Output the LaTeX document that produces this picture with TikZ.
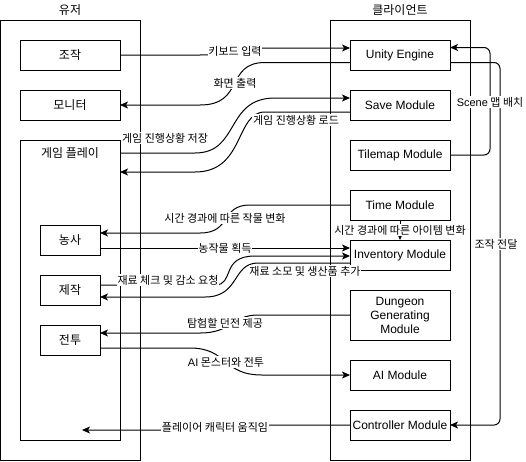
\documentclass[tikz,border=0pt]{standalone}
\usepackage{fontspec}
\setmainfont{Liberation Sans}
\newfontfamily\kr{Noto Sans CJK KR}
\usetikzlibrary{arrows.meta,calc}
\begin{document}
\begin{tikzpicture}[x=1pt,y=-1pt,
  every node/.style={inner sep=0pt, outer sep=0pt},
  cont/.style={draw, line width=1pt},
  box/.style={draw, line width=1pt, fill=white, minimum width=100pt, minimum height=30pt, font=\fontsize{12}{14}\selectfont, align=center},
  kbox/.style={box, font=\kr\fontsize{12}{14}\selectfont},
  ttl/.style={font=\kr\fontsize{12}{14}\selectfont},
  lab/.style={fill=white, font=\kr\fontsize{11}{13}\selectfont, inner sep=0.6pt},
  conn/.style={line width=1pt, -{Stealth[length=8pt,width=7pt,inset=2pt]}},
  ]
\useasboundingbox (0,0) rectangle (526,461);
% containers
\node[cont, minimum width=139.5pt, minimum height=440pt] (user) at (70.25,240) {};
\node[ttl] (usert) at (70,10) {유저};
\node[cont, minimum width=140pt, minimum height=440pt] (client) at (400,240) {};
\node[ttl] (clientt) at (400,10) {클라이언트};
\node[cont, minimum width=100pt, minimum height=300pt] (gp) at (70,290) {};
\node[ttl] (gpt) at (70,153) {게임 플레이};
% boxes
\node[kbox] (jo) at (70,55) {조작};
\node[kbox] (mon) at (70,105) {모니터};
\node[kbox, minimum width=60pt] (farm) at (70,240) {농사};
\node[kbox, minimum width=60pt] (craft) at (70,290) {제작};
\node[kbox, minimum width=60pt] (fight) at (70,340) {전투};
\node[box] (unity) at (400,55) {Unity Engine};
\node[box] (save) at (400,105) {Save Module};
\node[box] (tile) at (400,155) {Tilemap Module};
\node[box] (time) at (400,205) {Time Module};
\node[box] (inv) at (400,255) {Inventory Module};
\node[box, minimum height=50pt] (dun) at (400,315) {Dungeon\\Generating\\Module};
\node[box] (ai) at (400,375) {AI Module};
\node[box] (ctrl) at (400,425) {Controller Module};
\coordinate (mv) at (82,430);
% connectors
\draw[conn] (jo.east) -- (200,55) .. controls (225,55) and (240,48) .. (265,48) -- ($(unity.west)+(0,-7)$);
\draw[conn] ($(unity.west)+(0,7.5)$) -- (265,62.5) .. controls (225,62.5) and (245,105) .. (200,105) -- (mon.east);
\draw[conn] ($(gp.north east)+(0,13)$) -- (195,153) .. controls (240,153) and (225,98) .. (275,98) -- ($(save.west)+(0,-7)$);
\draw[conn] ($(save.west)+(0,7)$) -- (265,112) .. controls (235,112) and (245,172) .. (195,172) -- ($(gp.north east)+(0,32)$);
\draw[conn, rounded corners=6pt] (tile.east) -- (490,155) -- (490,47.5) -- ($(unity.east)+(0,-7.5)$);
\draw[conn, rounded corners=6pt] ($(unity.east)+(0,7.5)$) -- (500,62.5) -- (500,425) -- (ctrl.east);
\draw[conn] (time.west) -- (250,205) .. controls (220,205) and (232,233) .. (200,233) -- ($(farm.east)+(0,-7)$);
\draw[conn] (time.south) -- (inv.north);
\draw[conn] ($(farm.east)+(0,8)$) -- ($(inv.west)+(0,-7)$);
\draw[conn] ($(craft.east)+(0,-5)$) -- (215,285) .. controls (235,285) and (220,256) .. (255,256) -- ($(inv.west)+(0,1)$);
\draw[conn] ($(inv.west)+(0,8)$) -- (258,263) .. controls (232,263) and (240,297) .. (205,297) -- ($(craft.east)+(0,7)$);
\draw[conn] (dun.west) -- (258,315) .. controls (232,315) and (232,333) .. (200,333) -- ($(fight.east)+(0,-7)$);
\draw[conn] ($(fight.east)+(0,8)$) -- (190,348) .. controls (228,348) and (222,375) .. (262,375) -- (ai.west);
\draw[conn] (ctrl.west) -- (265,425) .. controls (220,425) and (215,430) .. (165,430) -- (mv);
% labels
\node[lab] (l1) at (235,51) {키보드 입력};
\node[lab] (l2) at (235,83) {화면 출력};
\node[lab] (l3) at (165,138) {게임 진행상황 저장};
\node[lab] (l4) at (296,120) {게임 진행상황 로드};
\node[lab] (l5) at (490,102) {{\rmfamily Scene} 맵 배치};
\node[lab] (l6) at (496,244) {조작 전달};
\node[lab] (l7) at (225,218) {시간 경과에 따른 작물 변화};
\node[lab] (l8) at (400,230) {시간 경과에 따른 아이템 변화};
\node[lab] (l9) at (225,248) {농작물 획득};
\node[lab] (l10) at (168,280) {재료 체크 및 감소 요청};
\node[lab] (l11) at (305,271) {재료 소모 및 생산품 추가};
\node[lab] (l12) at (225,323) {탐험할 던전 제공};
\node[lab] (l13) at (226,362) {{\rmfamily AI} 몬스터와 전투};
\node[lab] (l14) at (215,427.5) {플레이어 캐릭터 움직임};
\end{tikzpicture}
\end{document}
